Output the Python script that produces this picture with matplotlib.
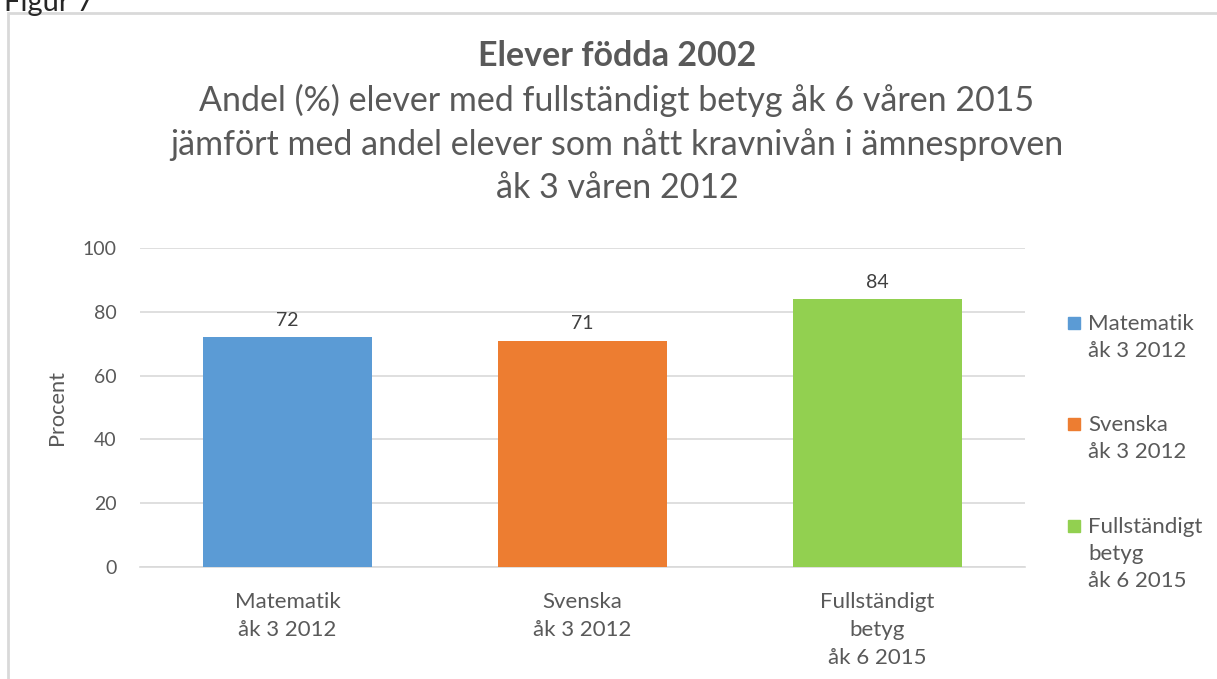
import matplotlib
matplotlib.use('Agg')
from matplotlib import pyplot as plt
from matplotlib.patches import Rectangle

# data
categories = ['Matematik\nåk 3 2012', 'Svenska\nåk 3 2012', 'Fullständigt\nbetyg\nåk 6 2015']
values = [72, 71, 84]
colors = ['#5B9BD5', '#ED7D31', '#92D050']
yticks = [0, 20, 40, 60, 80, 100]

plt.rcParams['font.family'] = ['Lato', 'DejaVu Sans']

W, H = 1217, 679
fig = plt.figure(figsize=(W / 100, H / 100), dpi=100)
ax = fig.add_axes([140 / W, 1 - 567 / H, 885 / W, 319 / H])

x = list(range(len(categories)))
bars = ax.bar(x, values, width=0.573, color=colors, zorder=3)

for b, v in zip(bars, values):
    ax.annotate(str(v), (b.get_x() + b.get_width() / 2, v), xytext=(0, 6),
                textcoords='offset points', ha='center', va='bottom',
                fontsize=14, color='#404040')

ax.set_xlim(-0.5, 2.5)
ax.set_ylim(0, 100)
ax.set_yticks(yticks)
ax.set_xticks(x)
ax.set_xticklabels(categories, fontsize=16, color='#595959', linespacing=1.5)
ax.tick_params(axis='y', labelsize=14, labelcolor='#595959', length=0, pad=17)
ax.tick_params(axis='x', length=0, pad=18)
ax.grid(axis='y', color='#D9D9D9', linewidth=1.2, zorder=0)
for s in ['top', 'right', 'left']:
    ax.spines[s].set_visible(False)
ax.spines['bottom'].set_color('#D9D9D9')
ax.spines['bottom'].set_linewidth(1.2)
ax.set_ylabel('Procent', fontsize=15.7, color='#595959', labelpad=11)

# titles
fig.text(0.507, 1 - 56 / H, 'Elever födda 2002', ha='center', va='center',
         fontsize=24.5, fontweight='bold', color='#595959')
fig.text(0.507, 1 - 144 / H,
         'Andel (%) elever med fullständigt betyg åk 6 våren 2015\n'
         'jämfört med andel elever som nått kravnivån i ämnesproven\n'
         'åk 3 våren 2012',
         ha='center', va='center', fontsize=24.5, color='#595959', linespacing=1.41)

# legend, square next to the first line of each entry
leg_tops = [323, 424, 526]
for lab, col, ty in zip(categories, colors, leg_tops):
    fig.add_artist(Rectangle((1068 / W, 1 - (ty + 6) / H), 12 / W, 12 / H,
                             transform=fig.transFigure, color=col))
    fig.text(1088 / W, 1 - (ty - 9) / H, lab, ha='left', va='top',
             fontsize=16, color='#595959', linespacing=1.45)

# frame and caption of the figure
fig.add_artist(Rectangle((8 / W, -0.1), 1.2, 1 - 13 / H + 0.1, transform=fig.transFigure,
                         fill=False, edgecolor='#D9D9D9', linewidth=2))
fig.text(0.003, 1 - 11 / H, 'Figur 7', fontsize=21, color='#262626', va='baseline')

fig.savefig('out.png', dpi=100)
